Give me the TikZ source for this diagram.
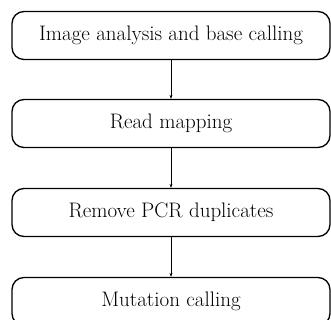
\documentclass[tikz,border=0pt]{standalone}
\usetikzlibrary{arrows.meta}
\begin{document}
\begin{tikzpicture}[x=1pt,y=1pt]
\useasboundingbox (0,0) rectangle (331,320);
\tikzset{
  stepbox/.style={draw, rounded corners=12pt, minimum width=318pt, minimum height=48pt, line width=1.3pt, inner sep=0pt, font=\fontsize{21}{24}\selectfont},
  flow/.style={-{Stealth[length=4pt,width=3pt]}, line width=0.8pt}
}
\node[stepbox] (a) at (171,284.5) {Image analysis and base calling};
\node[stepbox] (b) at (171,196.5) {Read mapping};
\node[stepbox] (c) at (171,107.5) {Remove PCR duplicates};
\node[stepbox] (d) at (171,18.5) {Mutation calling};
\draw[flow] (a) -- (b);
\draw[flow] (b) -- (c);
\draw[flow] (c) -- (d);
\end{tikzpicture}
\end{document}
